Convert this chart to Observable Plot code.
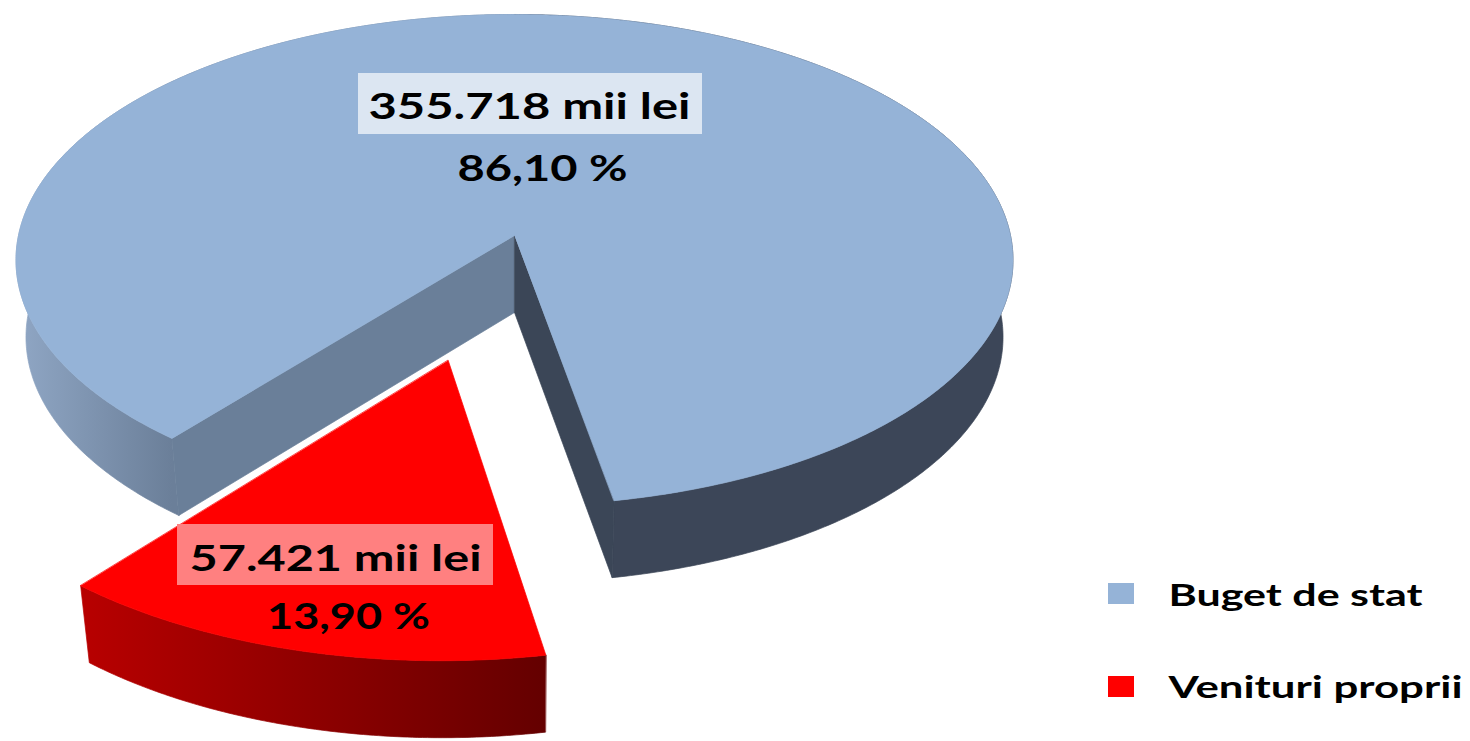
<!DOCTYPE html>
<html><head><meta charset="utf-8">
<script src="https://cdn.jsdelivr.net/npm/d3@7"></script>
<script src="https://cdn.jsdelivr.net/npm/@observablehq/plot@0.6"></script>
<style>html,body{margin:0;padding:0;background:#fff;overflow:hidden}</style>
</head><body><div id="chart"></div>
<script>
// ---- data ----
const categories = ["Buget de stat", "Venituri proprii"];
const valuesMiiLei = [355718, 57421];
const sliceColors = ["#95b3d7", "#ff0000"];
const unitLabel = "mii lei";

// ---- layout / style ----
const W = 1470, H = 741;
const proj = {cx: 514, cy: 235, a: 496, b: 243.1, k: 0.1, depth: 77, shrink: 0.98};
const startDeg = 219.6;
const explode = [0, 0.505];
const wallFill = [
  {left: "url(#bigLeft)", right: "#3c4658", startWall: "#6a7f99", endWall: "#3b4657"},
  {left: "url(#redWall)", right: "url(#redWall)", startWall: "#a00000", endWall: "#700000"}
];
const labelLayout = [
  {ax: 529, ay: 118, px: 542, py: 180, box: [358, 702, 73, 134], boxFill: "#dce6f2", aw: 322, pw: 170},
  {ax: 335, ay: 570, px: 348, py: 628, box: [177, 493, 524, 585], boxFill: "#ff8080", aw: 292, pw: 163}
];
const legendLayout = {sx1: 1108, sx2: 1134, sy: [583, 676], sh: 21, tx: 1168, ty: [605, 697], tw: [254, 294]};
const fontFamily = "Lato, 'Open Sans', sans-serif";

// ---- derived labels ----
const total = d3.sum(valuesMiiLei);
const loc = d3.formatLocale({decimal: ",", thousands: ".", grouping: [3], currency: ["", ""]});
const fmtAmount = loc.format(",d");
const fmtPct = loc.format(".2f");
const amountLabels = valuesMiiLei.map(v => fmtAmount(v) + " " + unitLabel);
const percentLabels = valuesMiiLei.map(v => fmtPct(v / total * 100) + " %");

// ---- 3D projection ----
function topP(u, v) { const w = 1 - proj.k * v; return [proj.cx + proj.a * u / w, proj.cy + proj.b * v / w]; }
function botP(p) { return [proj.cx + (p[0] - proj.cx) * proj.shrink, p[1] + proj.depth]; }
function modelPt(theta, r, off) { return [off[0] + r * Math.sin(theta), off[1] - r * Math.cos(theta)]; }
function arcPts(t0, t1, off) {
  const n = Math.max(4, Math.ceil(Math.abs(t1 - t0) / (Math.PI / 360)));
  const pts = [];
  for (let i = 0; i <= n; i++) { const t = t0 + (t1 - t0) * i / n; const m = modelPt(t, 1, off); pts.push(topP(m[0], m[1])); }
  return pts;
}

const start = startDeg * Math.PI / 180;
const arcs = d3.pie().sort(null).startAngle(start).endAngle(start + 2 * Math.PI)(valuesMiiLei);

const faces = [];
arcs.forEach((a, i) => {
  const mid = (a.startAngle + a.endAngle) / 2;
  const off = [explode[i] * Math.sin(mid), -explode[i] * Math.cos(mid)];
  const apex = topP(off[0], off[1]);
  // outer walls: split at multiples of PI only where the fill changes
  const cuts = [a.startAngle];
  if (wallFill[i].left !== wallFill[i].right) {
    for (let c = Math.ceil(a.startAngle / Math.PI) * Math.PI; c < a.endAngle; c += Math.PI) if (c > a.startAngle) cuts.push(c);
  }
  cuts.push(a.endAngle);
  for (let j = 0; j < cuts.length - 1; j++) {
    const t0 = cuts[j], t1 = cuts[j + 1];
    const midT = (t0 + t1) / 2;
    const side = Math.sin(midT) < 0 ? "left" : "right";
    const tp = arcPts(t0, t1, off);
    const bp = tp.map(botP).reverse();
    faces.push({pts: tp.concat(bp), fill: wallFill[i][side]});
  }
  // radial walls if facing the viewer
  const sEdge = topP(...modelPt(a.startAngle, 1, off));
  const eEdge = topP(...modelPt(a.endAngle, 1, off));
  if (Math.sin(a.startAngle) < 0) faces.push({pts: [apex, sEdge, botP(sEdge), botP(apex)], fill: wallFill[i].startWall});
  if (Math.sin(a.endAngle) > 0) faces.push({pts: [apex, eEdge, botP(eEdge), botP(apex)], fill: wallFill[i].endWall});
  // top face
  faces.push({pts: [apex].concat(arcPts(a.startAngle, a.endAngle, off)), fill: sliceColors[i]});
});

// gradient extents
const bigLeftX = proj.cx - proj.a * 1.005;
const bigCornerX = topP(...modelPt(arcs[0].startAngle, 1, [0, 0]))[0];
const redMid = (arcs[1].startAngle + arcs[1].endAngle) / 2;
const redOff = [explode[1] * Math.sin(redMid), -explode[1] * Math.cos(redMid)];
const redLeftX = topP(...modelPt(arcs[1].endAngle, 1, redOff))[0];
const redRightX = topP(...modelPt(arcs[1].startAngle, 1, redOff))[0];

const idx = d3.range(valuesMiiLei.length);
const marks = faces.map(f => Plot.line(f.pts, {x: d => d[0], y: d => d[1], fill: f.fill, stroke: f.fill, strokeWidth: 0.7, curve: "linear-closed"}));

marks.push(
  Plot.rect(idx, {x1: i => labelLayout[i].box[0], x2: i => labelLayout[i].box[1], y1: i => labelLayout[i].box[2], y2: i => labelLayout[i].box[3], fill: i => labelLayout[i].boxFill}),
  Plot.text(idx, {x: i => labelLayout[i].ax, y: i => labelLayout[i].ay, text: i => amountLabels[i], fontSize: 37, fontWeight: "bold", fontFamily, fill: "#000", lineAnchor: "bottom", textAnchor: "middle"}),
  Plot.text(idx, {x: i => labelLayout[i].px, y: i => labelLayout[i].py, text: i => percentLabels[i], fontSize: 37, fontWeight: "bold", fontFamily, fill: "#000", lineAnchor: "bottom", textAnchor: "middle"}),
  Plot.rect(idx, {x1: legendLayout.sx1, x2: legendLayout.sx2, y1: i => legendLayout.sy[i], y2: i => legendLayout.sy[i] + legendLayout.sh, fill: i => sliceColors[i]}),
  Plot.text(idx, {x: legendLayout.tx, y: i => legendLayout.ty[i], text: i => categories[i], fontSize: 30, fontWeight: "bold", fontFamily, fill: "#000", lineAnchor: "bottom", textAnchor: "start"})
);

const svg = Plot.plot({
  width: W, height: H, margin: 0,
  x: {domain: [0, W], range: [0, W], axis: null},
  y: {domain: [0, H], range: [0, H], axis: null},
  color: {type: "identity"},
  style: {background: "#fff", overflow: "visible"},
  marks
});

// gradients
const defs = d3.select(svg).insert("defs", ":first-child");
function lin(id, x1, x2, c1, c2) {
  const g = defs.append("linearGradient").attr("id", id).attr("gradientUnits", "userSpaceOnUse")
    .attr("x1", x1).attr("x2", x2).attr("y1", 0).attr("y2", 0);
  g.append("stop").attr("offset", 0).attr("stop-color", c1);
  g.append("stop").attr("offset", 1).attr("stop-color", c2);
}
lin("bigLeft", bigLeftX, bigCornerX, "#90a7c5", "#6b7f99");
lin("redWall", redLeftX, redRightX, "#b80000", "#640000");

// stretch text widths like the reference
const widths = new Map();
idx.forEach(i => { widths.set(amountLabels[i], labelLayout[i].aw); widths.set(percentLabels[i], labelLayout[i].pw); widths.set(categories[i], legendLayout.tw[i]); });
svg.querySelectorAll("text").forEach(t => {
  const w = widths.get(t.textContent);
  if (w) { t.setAttribute("textLength", w); t.setAttribute("lengthAdjust", "spacingAndGlyphs"); }
});

document.getElementById("chart").appendChild(svg);
</script>
</body></html>
